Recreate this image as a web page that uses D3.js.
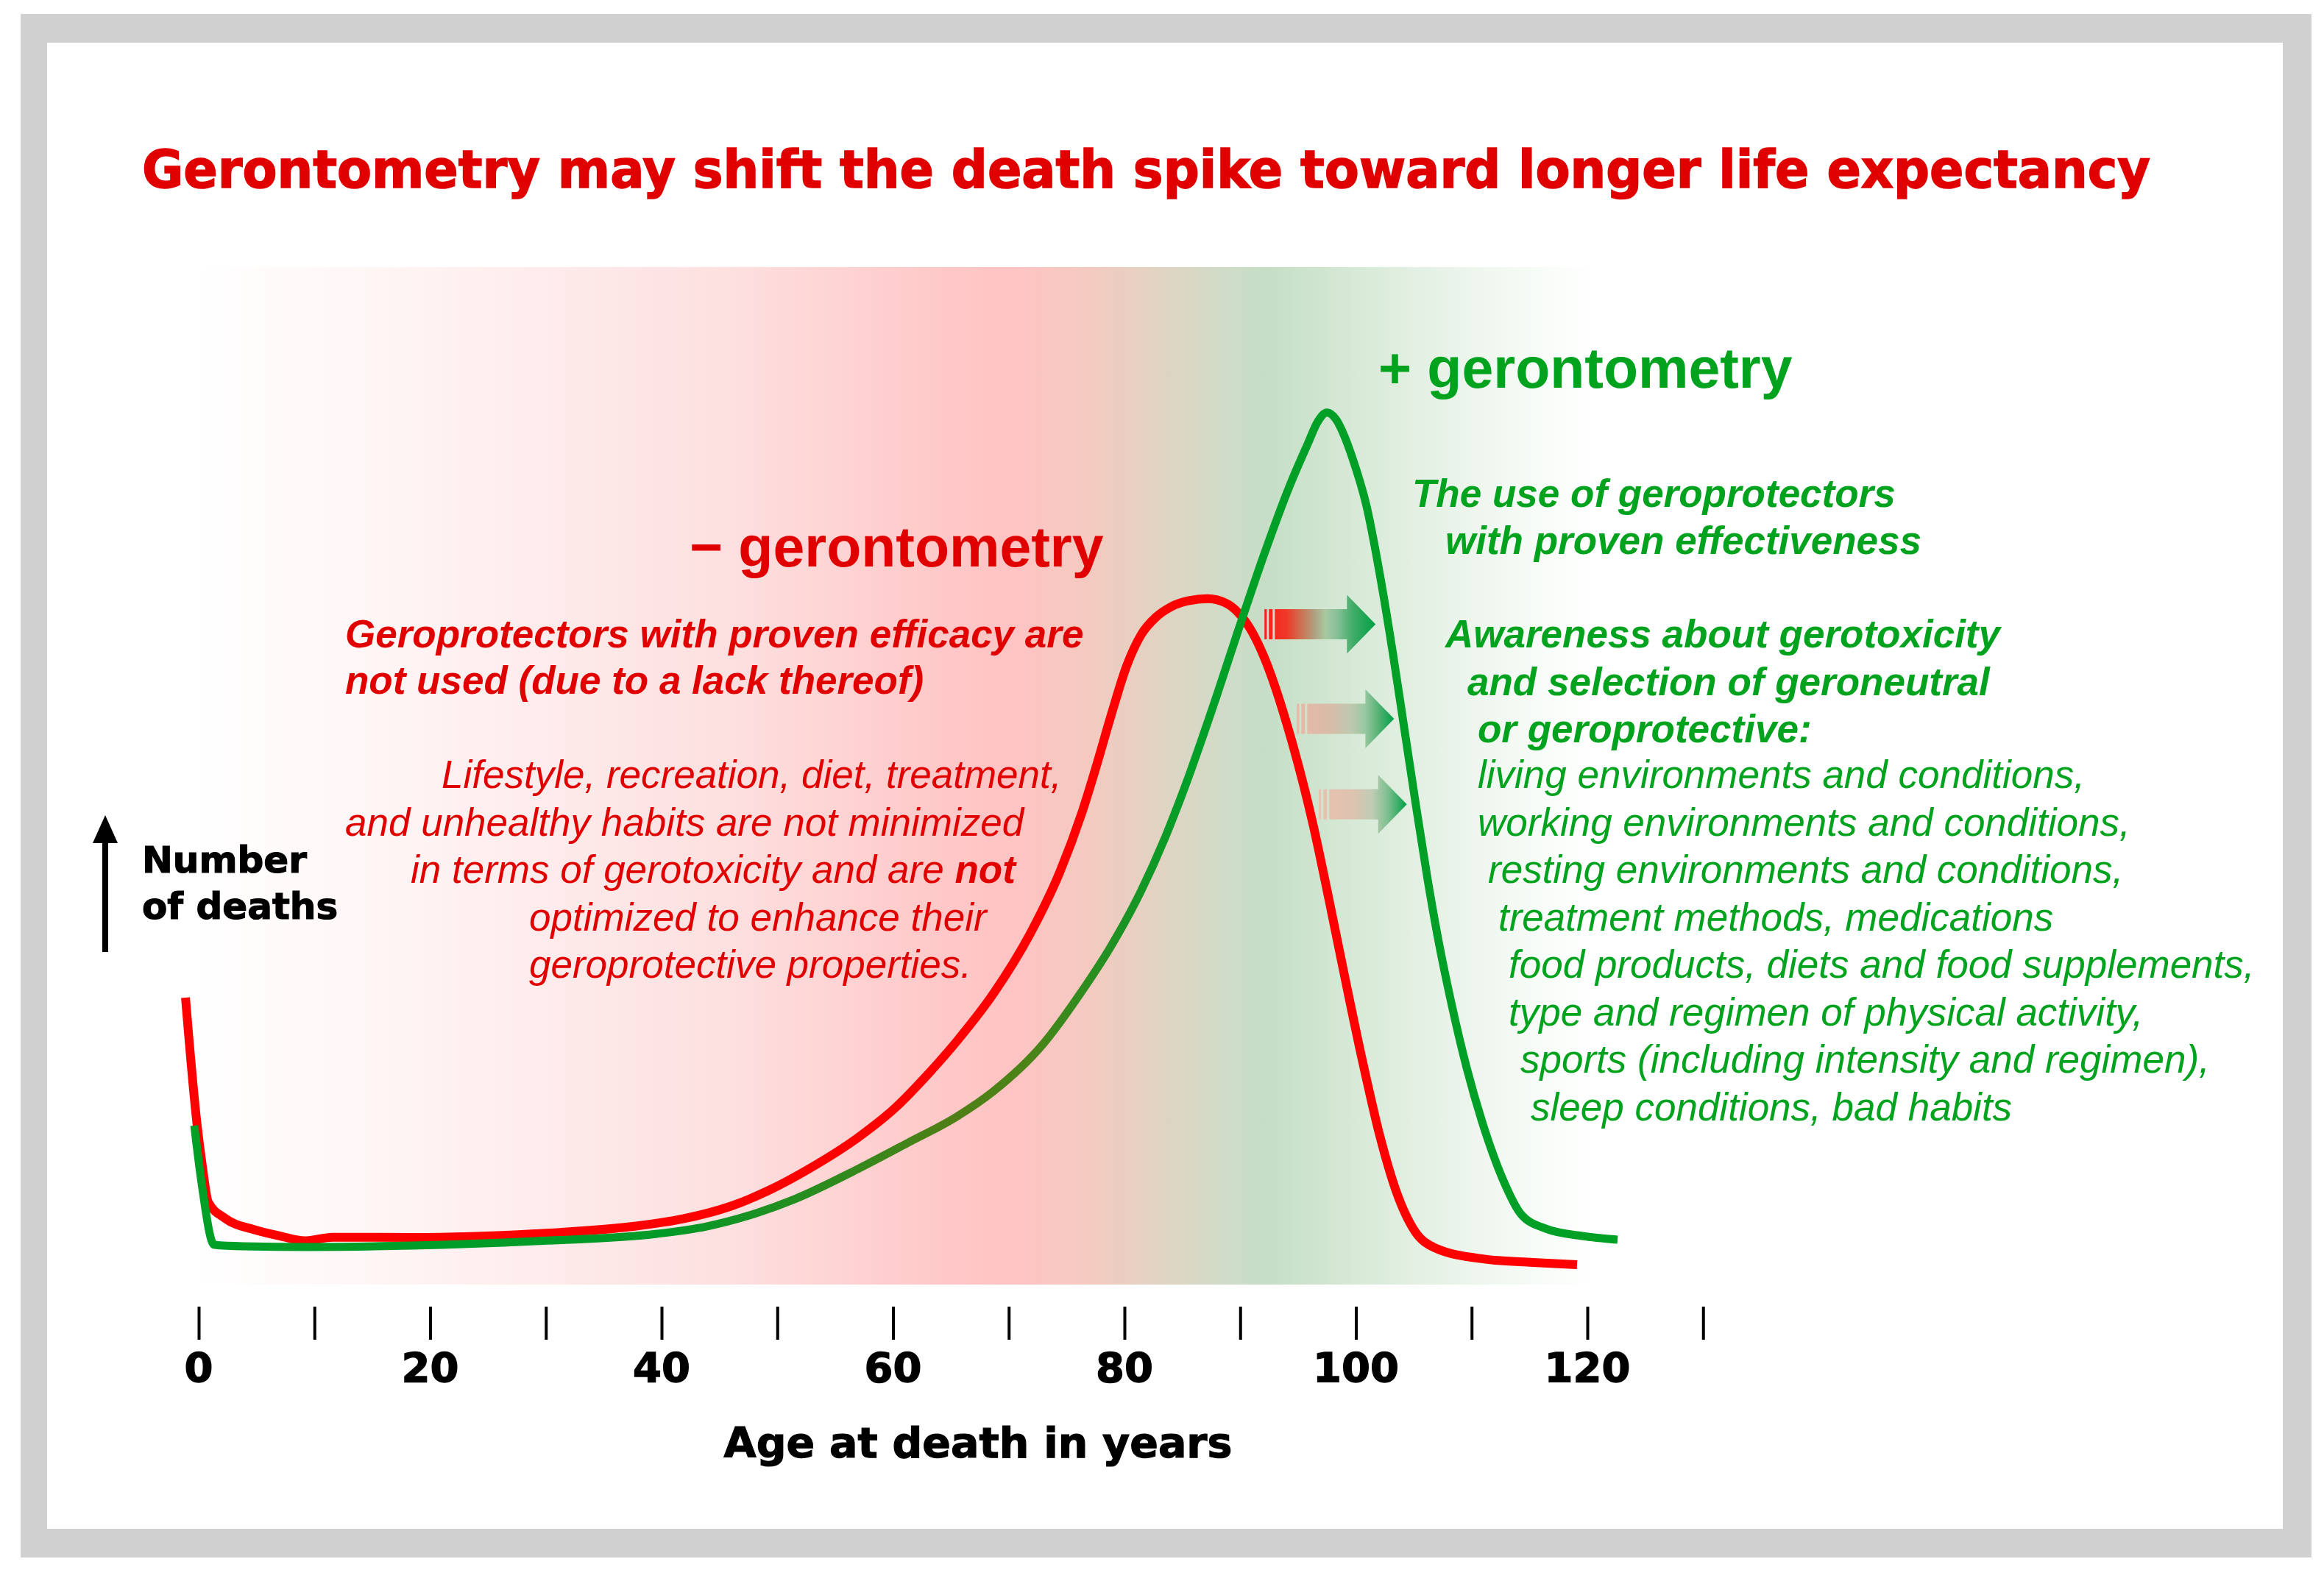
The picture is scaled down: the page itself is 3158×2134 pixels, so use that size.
<!DOCTYPE html>
<html>
<head>
<meta charset="utf-8">
<script src="https://cdn.jsdelivr.net/npm/d3@7"></script>
<style>
  html, body { margin: 0; padding: 0; background: #fff; }
  svg { display: block; }
</style>
</head>
<body>
<svg id="chart"></svg>
<script>
// --- data (age in years, deaths in relative units 0..100) ---
const redAge    = [-1.14, -0.13, 0.32, 0.83, 2.29, 4.77, 7.1, 9.16, 11.57, 18.44, 29.06, 37.52, 41.78, 45.98, 49.16, 52.78, 57.04, 60.22, 62.96, 65.5, 68.68, 72.05, 74.4, 76.3, 77.58, 78.86, 80.19, 81.46, 82.73, 84.0, 85.5, 87.19, 88.71, 89.86, 91.0, 92.02, 94.31, 96.28, 97.68, 99.08, 100.6, 102.07, 103.47, 105.12, 106.84, 111.1, 115.3, 119.11];
const redDeaths = [28.2, 15.6, 11.6, 8.1, 6.5, 5.4, 4.75, 4.3, 4.65, 4.63, 4.99, 5.71, 6.44, 7.7, 9.2, 11.4, 14.5, 17.4, 20.6, 23.9, 28.6, 34.9, 40.5, 46.3, 51.0, 56.0, 60.8, 63.9, 65.6, 66.6, 67.2, 67.4, 67.0, 66.0, 64.2, 61.8, 54.0, 45.3, 37.8, 30.0, 21.8, 14.6, 9.2, 5.2, 3.6, 2.5, 2.17, 1.95];

const greenAge    = [-0.38, 0.25, 1.34, 3.82, 9.54, 18.44, 29.06, 39.62, 43.88, 48.14, 51.51, 57.04, 61.24, 65.5, 68.68, 72.94, 76.12, 78.86, 81.4, 83.5, 85.02, 87.95, 89.92, 92.08, 94.31, 95.83, 96.7, 97.5, 98.3, 99.0, 99.65, 100.92, 102.19, 103.2, 104.2, 105.2, 106.2, 107.2, 108.2, 109.57, 111.1, 112.75, 114.28, 116.38, 119.55, 122.61];
const greenDeaths = [15.62, 9.98, 3.9, 3.76, 3.69, 3.83, 4.27, 4.99, 5.71, 7.0, 8.4, 11.4, 13.9, 16.5, 19.0, 23.6, 28.5, 33.3, 38.6, 43.9, 48.3, 57.8, 64.6, 71.8, 78.6, 82.6, 84.8, 85.7, 85.0, 83.4, 81.4, 76.5, 69.0, 62.0, 54.5, 47.0, 39.8, 33.4, 27.9, 21.3, 15.3, 10.2, 6.9, 5.5, 4.77, 4.41];

const xTicks  = d3.range(0, 131, 10);
const xLabels = [0, 20, 40, 60, 80, 100, 120];

// shift arrows: tail age, tip age, level
const arrowFrom  = [92.1, 94.9, 96.8];
const arrowTo    = [101.7, 103.3, 104.4];
const arrowLevel = [64.9, 55.6, 47.2];

const titleText  = "Gerontometry may shift the death spike toward longer life expectancy";
const xTitle     = "Age at death in years";
const yTitle     = ["Number", "of deaths"];
const minusLabel = "\u2212 gerontometry";
const plusLabel  = "+ gerontometry";
const redBold    = ["Geroprotectors with proven efficacy are", "not used (due to a lack thereof)"];
const redLines   = [
  "Lifestyle, recreation, diet, treatment,",
  "and unhealthy habits are not minimized",
  "in terms of gerotoxicity and are *not*",
  "optimized to enhance their",
  "geroprotective properties."
];
const greenBold  = [
  "The use of geroprotectors",
  "with proven effectiveness",
  "Awareness about gerotoxicity",
  "and selection of geroneutral",
  "or geroprotective:"
];
const greenLines = [
  "living environments and conditions,",
  "working environments and conditions,",
  "resting environments and conditions,",
  "treatment methods, medications",
  "food products, diets and food supplements,",
  "type and regimen of physical activity,",
  "sports (including intensity and regimen),",
  "sleep conditions, bad habits"
];

// --- layout ---
const W = 3158, H = 2134;
const RED = "#ff0000", RED_TXT = "#e00000", GREEN_TXT = "#00a21e";
const SANS = "'Liberation Sans', Arial, sans-serif";
const HEAVY = "'DejaVu Sans', Verdana, sans-serif";

const redBoldX = [469, 469], redBoldY = [880, 943];
const redX = [600, 469, 558, 719, 719], redY = [1071, 1136, 1200, 1265, 1329];
const greenBoldX = [1919, 1964, 1964, 1994, 2008], greenBoldY = [689, 753, 880, 945, 1009];
const greenX = [2008, 2008, 2022, 2036, 2050, 2050, 2066, 2080];
const greenY = [1071, 1136, 1200, 1265, 1329, 1394, 1458, 1523];

const svg = d3.select("#chart").attr("width", W).attr("height", H);
const defs = svg.append("defs");

const x = d3.scaleLinear().domain([0, 120]).range([270, 2157]);
const y = d3.scaleLinear().domain([0, 100]).range([1746, 363]);

// frame
svg.append("rect").attr("x", 28).attr("y", 19).attr("width", 3113).attr("height", 2098).attr("fill", "#d0d0d0");
svg.append("rect").attr("x", 64).attr("y", 58).attr("width", 3038).attr("height", 2020).attr("fill", "#fff");

// background band
const bandGrad = defs.append("linearGradient").attr("id", "band").attr("x1", 0).attr("x2", 1).attr("y1", 0).attr("y2", 0);
[[0, "#ffffff"], [0.15, "#fff4f4"], [0.38, "#fde0e0"], [0.52, "#ffcaca"], [0.58, "#ffc3c3"],
 [0.64, "#f3cac0"], [0.69, "#e0d3c2"], [0.735, "#cfdcc8"], [0.765, "#c5dec5"], [0.83, "#d8ead8"],
 [0.9, "#ebf4eb"], [0.96, "#f8fcf8"], [1, "#ffffff"]].forEach(s =>
  bandGrad.append("stop").attr("offset", s[0]).attr("stop-color", s[1]));

svg.append("rect")
  .attr("x", x(-0.5)).attr("y", y(100))
  .attr("width", x(121) - x(-0.5)).attr("height", y(0) - y(100))
  .attr("fill", "url(#band)");

// title
svg.append("text")
  .attr("x", 193).attr("y", 255)
  .attr("textLength", 2729).attr("lengthAdjust", "spacingAndGlyphs")
  .style("font-family", HEAVY).style("font-weight", "bold").style("font-size", "72px")
  .attr("fill", RED_TXT).attr("stroke", RED_TXT).attr("stroke-width", 1.6)
  .text(titleText);

// y indicator
svg.append("rect").attr("x", 139).attr("y", 1145).attr("width", 8).attr("height", 149).attr("fill", "#000");
svg.append("path").attr("d", "M126,1146 L160,1146 L143,1108 Z").attr("fill", "#000");
svg.append("g").selectAll("text").data(yTitle).join("text")
  .attr("x", 193).attr("y", (d, i) => 1186 + i * 63)
  .style("font-family", HEAVY).style("font-weight", "bold").style("font-size", "50px")
  .attr("fill", "#000").attr("stroke", "#000").attr("stroke-width", 1.2)
  .text(d => d);

// x axis
const gAxis = svg.append("g")
  .attr("transform", "translate(0,1776)")
  .call(d3.axisBottom(x).tickValues(xTicks).tickSize(45).tickFormat(""));
gAxis.select(".domain").remove();
gAxis.selectAll(".tick line").attr("stroke", "#000").attr("stroke-width", 4);

svg.append("g").selectAll("text").data(xLabels).join("text")
  .attr("x", d => x(d)).attr("y", 1878)
  .attr("text-anchor", "middle")
  .style("font-family", HEAVY).style("font-weight", "bold").style("font-size", "56px")
  .attr("fill", "#000").attr("stroke", "#000").attr("stroke-width", 1.4)
  .text(d => d);

svg.append("text")
  .attr("x", 1329).attr("y", 1981).attr("text-anchor", "middle")
  .style("font-family", HEAVY).style("font-weight", "bold").style("font-size", "57px")
  .attr("fill", "#000").attr("stroke", "#000").attr("stroke-width", 1.2)
  .text(xTitle);

// curves
const line = d3.line().x(d => x(d[0])).y(d => y(d[1])).curve(d3.curveMonotoneX);
const redData = redAge.map((a, i) => [a, redDeaths[i]]);
const greenData = greenAge.map((a, i) => [a, greenDeaths[i]]);

const gGrad = defs.append("linearGradient").attr("id", "greenStroke")
  .attr("gradientUnits", "userSpaceOnUse")
  .attr("x1", x(0)).attr("x2", x(120)).attr("y1", 0).attr("y2", 0);
[[0, "#00a027"], [40, "#009a28"], [55, "#2f8a1e"], [65, "#4f7f16"], [72, "#4a8418"], [80, "#1a9324"], [86, "#00a028"], [120, "#00a027"]]
  .forEach(s => gGrad.append("stop").attr("offset", s[0] / 120).attr("stop-color", s[1]));

svg.append("path").datum(redData)
  .attr("d", line).attr("fill", "none")
  .attr("stroke", RED).attr("stroke-width", 12).attr("stroke-linejoin", "round");

svg.append("path").datum(greenData)
  .attr("d", line).attr("fill", "none")
  .attr("stroke", "url(#greenStroke)").attr("stroke-width", 11).attr("stroke-linejoin", "round");

// shift arrows
const arrowStops = [
  [[0, "#ff1a1a"], [0.2, "#ee3a28"], [0.35, "#c87a58"], [0.45, "#b0a080"], [0.55, "#a8c8a0"], [0.65, "#88c098"], [0.8, "#40ac68"], [1, "#00a044"]],
  [[0, "#e8b8a8"], [0.35, "#d8bca8"], [0.55, "#c0c8b0"], [0.7, "#98c8a0"], [0.85, "#50b070"], [1, "#00a048"]],
  [[0, "#ebc0b0"], [0.4, "#dcc4b0"], [0.6, "#c0ccb4"], [0.78, "#80c090"], [1, "#00a048"]]
];
arrowFrom.forEach((a0, i) => {
  const x0 = x(a0), x1 = x(arrowTo[i]), yc = y(arrowLevel[i]);
  const grad = defs.append("linearGradient").attr("id", "arr" + i)
    .attr("gradientUnits", "userSpaceOnUse")
    .attr("x1", x0).attr("x2", x1).attr("y1", 0).attr("y2", 0);
  arrowStops[i].forEach(s => grad.append("stop").attr("offset", s[0]).attr("stop-color", s[1]));
  const bh = 20.5, hh = 40, hl = 39;
  const g = svg.append("g").attr("fill", `url(#arr${i})`);
  g.append("rect").attr("x", x0).attr("y", yc - bh).attr("width", 3).attr("height", bh * 2);
  g.append("rect").attr("x", x0 + 6).attr("y", yc - bh).attr("width", 5).attr("height", bh * 2);
  g.append("path").attr("d",
    `M${x0 + 14},${yc - bh} L${x1 - hl},${yc - bh} L${x1 - hl},${yc - hh} L${x1},${yc} ` +
    `L${x1 - hl},${yc + hh} L${x1 - hl},${yc + bh} L${x0 + 14},${yc + bh} Z`);
});

// headings
svg.append("text").attr("x", 937).attr("y", 770)
  .style("font-family", SANS).style("font-weight", "bold").style("font-size", "77px")
  .attr("fill", RED_TXT).text(minusLabel);
svg.append("text").attr("x", 1873).attr("y", 527)
  .style("font-family", SANS).style("font-weight", "bold").style("font-size", "77px")
  .attr("fill", GREEN_TXT).text(plusLabel);

// annotation blocks
function block(lines, xs, ys, color, bold) {
  const t = svg.append("g").selectAll("text").data(lines).join("text")
    .attr("x", (d, i) => xs[i]).attr("y", (d, i) => ys[i])
    .style("font-family", SANS).style("font-style", "italic")
    .style("font-weight", bold ? "bold" : "normal").style("font-size", "53px")
    .attr("fill", color);
  t.each(function(d) {
    const parts = d.split("*");
    parts.forEach((p, k) => {
      if (!p) return;
      d3.select(this).append("tspan").style("font-weight", k % 2 ? "bold" : null).text(p);
    });
  });
}
block(redBold, redBoldX, redBoldY, RED_TXT, true);
block(redLines, redX, redY, RED_TXT, false);
block(greenBold, greenBoldX, greenBoldY, GREEN_TXT, true);
block(greenLines, greenX, greenY, GREEN_TXT, false);
</script>
</body>
</html>
